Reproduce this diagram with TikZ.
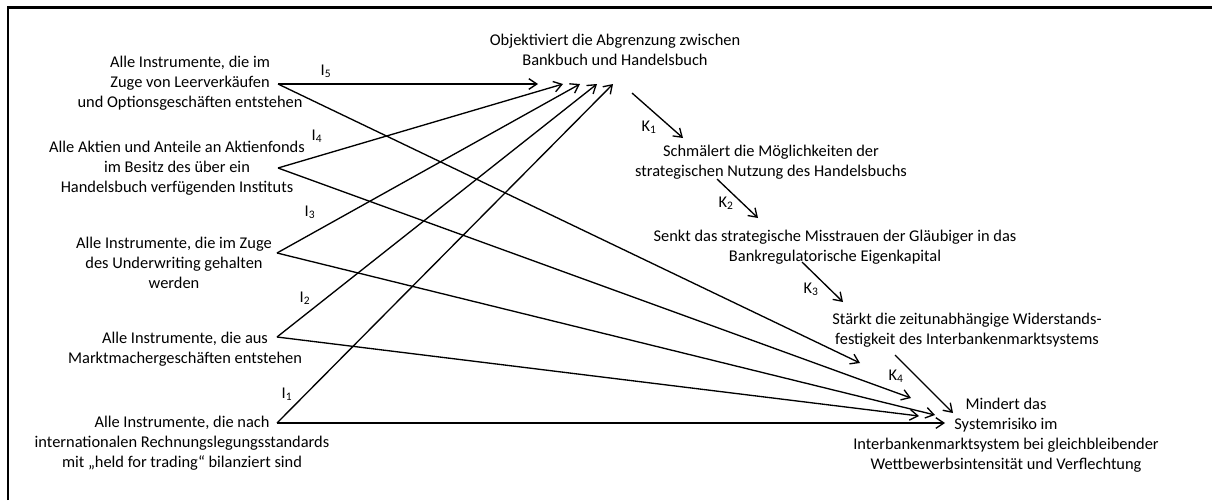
\documentclass[tikz,border=0pt]{standalone}
\usepackage{fontspec}
\setmainfont{Carlito}
\usetikzlibrary{arrows.meta}
\begin{document}
\begin{tikzpicture}[x=0.75pt,y=-0.75pt,
  txt/.style={align=center,inner sep=0pt,font=\fontsize{12.3}{14.9}\selectfont},
  lbl/.style={inner sep=0pt,font=\fontsize{12.3}{14.9}\selectfont},
  link/.style={line width=1pt,-{Straight Barb[length=6pt,width=8pt]}},
  frame/.style={line width=1.6pt}]
\useasboundingbox (0,0) rectangle (1212,500);
% outer frame (only top and left edges fall inside the page)
\draw[frame] (8,500) -- (8,7.5) -- (1212,7.5);

% instruments
\node[txt] (n1) at (190,83.5) {Alle Instrumente, die im\\Zuge von Leerverkäufen\\und Optionsgeschäften entstehen};
\node[txt] (n2) at (177,168.5) {Alle Aktien und Anteile an Aktienfonds\\im Besitz des über ein\\Handelsbuch verfügenden Instituts};
\node[txt] (n3) at (174,263) {Alle Instrumente, die im Zuge\\des Underwriting gehalten\\werden};
\node[txt] (n4) at (185,349) {Alle Instrumente, die aus\\Marktmachergeschäften entstehen};
\node[txt] (n5) at (182,443) {Alle Instrumente, die nach\\internationalen Rechnungslegungsstandards\\mit „held for trading“ bilanziert sind};

% chain of effects
\node[txt] (e0) at (615,50) {Objektiviert die Abgrenzung zwischen\\Bankbuch und Handelsbuch};
\node[txt] (e1) at (771,162) {Schmälert die Möglichkeiten der\\strategischen Nutzung des Handelsbuchs};
\node[txt] (e2) at (835,247) {Senkt das strategische Misstrauen der Gläubiger in das\\Bankregulatorische Eigenkapital};
\node[txt] (e3) at (967,330.5) {Stärkt die zeitunabhängige Widerstands-\\festigkeit des Interbankenmarktsystems};
\node[txt] (e4) at (1006,435) {Mindert das\\Systemrisiko im\\Interbankenmarktsystem bei gleichbleibender\\Wettbewerbsintensität und Verflechtung};

% connector ports
\coordinate (s1) at (278,84);
\coordinate (s2) at (278,168);
\coordinate (s3) at (277,253);
\coordinate (s4) at (277,337);
\coordinate (s5) at (277,423);
\coordinate (a1) at (538,84);
\coordinate (a2) at (563,84);
\coordinate (a3) at (580,84);
\coordinate (a4) at (597,84);
\coordinate (a5) at (613,84);
\coordinate (b1) at (860,363);
\coordinate (b2) at (911,398);
\coordinate (b3) at (935,415);
\coordinate (b4) at (919,416);
\coordinate (b5) at (945,423);
\coordinate (k1s) at (632,93);   \coordinate (k1e) at (683,138);
\coordinate (k2s) at (717,179);  \coordinate (k2e) at (758,218);
\coordinate (k3s) at (802,262);  \coordinate (k3e) at (843,302);
\coordinate (k4s) at (895,355);  \coordinate (k4e) at (953,413);

% instruments -> first effect and -> final effect
\draw[link] (s1) -- (a1);
\draw[link] (s2) -- (a2);
\draw[link] (s3) -- (a3);
\draw[link] (s4) -- (a4);
\draw[link] (s5) -- (a5);
\draw[link] (s1) -- (b1);
\draw[link] (s2) -- (b2);
\draw[link] (s3) -- (b3);
\draw[link] (s4) -- (b4);
\draw[link] (s5) -- (b5);

% chain arrows
\draw[link] (k1s) -- (k1e);
\draw[link] (k2s) -- (k2e);
\draw[link] (k3s) -- (k3e);
\draw[link] (k4s) -- (k4e);

% labels
\node[lbl] (i5) at (326,71) {I\textsubscript{5}};
\node[lbl] (i4) at (317,136) {I\textsubscript{4}};
\node[lbl] (i3) at (310,212) {I\textsubscript{3}};
\node[lbl] (i2) at (305,298) {I\textsubscript{2}};
\node[lbl] (i1) at (287,394) {I\textsubscript{1}};
\node[lbl] (c1) at (649,127) {K\textsubscript{1}};
\node[lbl] (c2) at (726,203) {K\textsubscript{2}};
\node[lbl] (c3) at (811,289) {K\textsubscript{3}};
\node[lbl] (c4) at (896,376) {K\textsubscript{4}};
\end{tikzpicture}
\end{document}
